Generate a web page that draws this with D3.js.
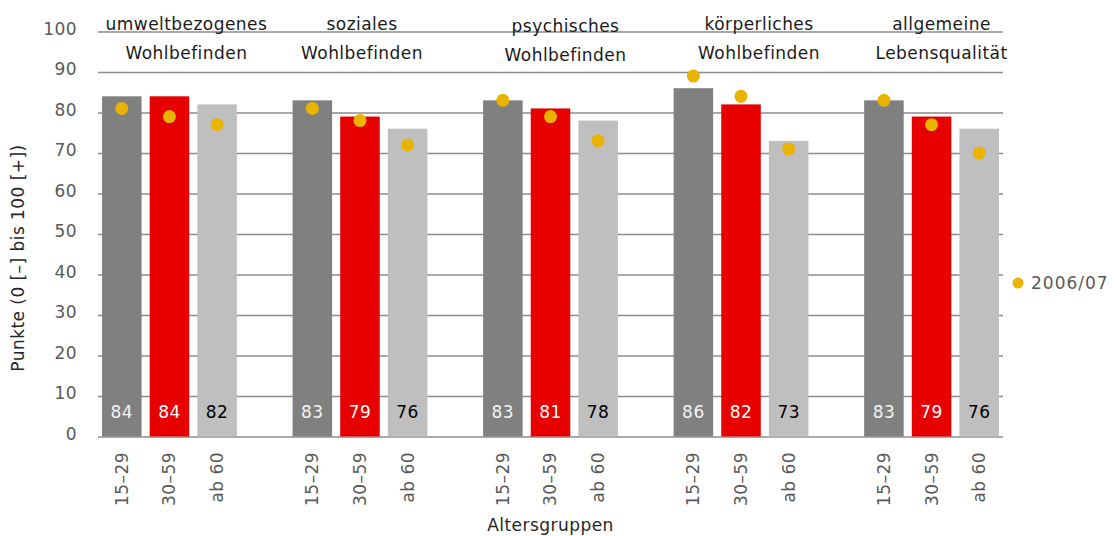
<!DOCTYPE html>
<html>
<head>
<meta charset="utf-8">
<script src="https://cdn.jsdelivr.net/npm/d3@7"></script>
<style>
  html, body { margin: 0; padding: 0; background: #fff; }
  text { font-family: "DejaVu Sans", sans-serif; letter-spacing: 0.45px; }
</style>
</head>
<body>
<script>
// ---- data ----
const categoriesLine1 = ["umweltbezogenes", "soziales", "psychisches", "körperliches", "allgemeine"];
const categoriesLine2 = ["Wohlbefinden", "Wohlbefinden", "Wohlbefinden", "Wohlbefinden", "Lebensqualität"];
const ageGroups = ["15–29", "30–59", "ab 60"];
const values1529 = [84, 83, 83, 86, 83];
const values3059 = [84, 79, 81, 82, 79];
const valuesAb60 = [82, 76, 78, 73, 76];
const prev1529 = [81, 81, 83, 89, 83];
const prev3059 = [79, 78, 79, 84, 77];
const prevAb60 = [77, 72, 73, 71, 70];
const yTicks = [0, 10, 20, 30, 40, 50, 60, 70, 80, 90, 100];
const legendLabel = "2006/07";
const yTitle = "Punkte (0 [–] bis 100 [+])";
const xTitle = "Altersgruppen";

// ---- layout / style ----
const W = 1115, H = 536;
const plotLeft = 98, plotRight = 1003, plotTop = 31.5, plotBottom = 436.5;
const barColors = ["#808080", "#e60000", "#bfbfbf"];
const labelColors = ["#f4f4f4", "#ffffff", "#000000"];
const dotColor = "#e9b300";
const gridColor = "#8c8c8c";
const axisTextColor = "#595959";
const titleDx = [17, 2, 15, 18, 10];
const titleDy = [0, 0, 2, 0, 0];

const current = [values1529, values3059, valuesAb60];
const previous = [prev1529, prev3059, prevAb60];

const rows = [];
const slots = [];
categoriesLine1.forEach((c, g) => {
  ageGroups.forEach((a, i) => {
    const key = g + "|" + i;
    slots.push(key);
    rows.push({ key, g, i, age: a, value: current[i][g], prev: previous[i][g] });
  });
  if (g < categoriesLine1.length - 1) slots.push("gap" + g);
});

const svg = d3.select("body").append("svg")
  .attr("width", W).attr("height", H)
  .style("display", "block");

const y = d3.scaleLinear().domain([0, 100]).range([plotBottom, plotTop]);
const x = d3.scaleBand().domain(slots).range([plotLeft, plotRight])
  .paddingInner(0.17).paddingOuter(0.085);
const bw = x.bandwidth();

// grid + y axis
const yAxis = svg.append("g")
  .attr("transform", `translate(${plotRight},0)`)
  .call(d3.axisLeft(y).tickValues(yTicks).tickSize(plotRight - plotLeft).tickPadding(21));
yAxis.select(".domain").remove();
yAxis.selectAll(".tick line").attr("stroke", gridColor).attr("stroke-width", 1.6);
yAxis.selectAll(".tick text")
  .attr("fill", axisTextColor)
  .attr("dy", "0.17em")
  .style("font-size", "17px")
  .style("font-family", "DejaVu Sans, sans-serif");

// bars
svg.append("g").selectAll("rect").data(rows).join("rect")
  .attr("x", d => x(d.key))
  .attr("width", bw)
  .attr("y", d => y(d.value))
  .attr("height", d => y(0) - y(d.value))
  .attr("fill", d => barColors[d.i]);

// value labels
svg.append("g").selectAll("text").data(rows).join("text")
  .attr("x", d => x(d.key) + bw / 2)
  .attr("y", y(0) - 18.5)
  .attr("text-anchor", "middle")
  .attr("fill", d => labelColors[d.i])
  .style("font-size", "17px")
  .text(d => d.value);

// previous-survey dots
svg.append("g").selectAll("circle").data(rows).join("circle")
  .attr("cx", d => x(d.key) + bw / 2)
  .attr("cy", d => y(d.prev))
  .attr("r", 6.5)
  .attr("fill", dotColor);

// x axis labels (rotated)
const xAxis = svg.append("g")
  .attr("transform", `translate(0,${plotBottom})`)
  .call(d3.axisBottom(x)
    .tickValues(rows.map(r => r.key))
    .tickSize(0)
    .tickFormat(k => ageGroups[+k.split("|")[1]]));
xAxis.select(".domain").remove();
xAxis.selectAll(".tick text")
  .attr("transform", "rotate(-90)")
  .attr("x", -15.5)
  .attr("y", 0)
  .attr("dy", "0.35em")
  .style("text-anchor", "end")
  .attr("fill", axisTextColor)
  .style("font-size", "17px")
  .style("font-family", "DejaVu Sans, sans-serif");

// category titles
const groupCenter = g => x(g + "|1") + bw / 2;
const titles = svg.append("g").attr("fill", "#1a1a1a").style("font-size", "17px");
titles.selectAll("text.l1").data(categoriesLine1).join("text")
  .attr("class", "l1")
  .attr("x", (d, g) => groupCenter(g) + titleDx[g])
  .attr("y", (d, g) => 30 + titleDy[g])
  .attr("text-anchor", "middle")
  .text(d => d);
titles.selectAll("text.l2").data(categoriesLine2).join("text")
  .attr("class", "l2")
  .attr("x", (d, g) => groupCenter(g) + titleDx[g])
  .attr("y", (d, g) => 59 + titleDy[g])
  .attr("text-anchor", "middle")
  .text(d => d);

// axis titles
svg.append("text")
  .attr("transform", `translate(24,${(plotTop + plotBottom) / 2 + 24}) rotate(-90)`)
  .attr("text-anchor", "middle")
  .attr("fill", "#262626")
  .style("font-size", "17px")
  .text(yTitle);

svg.append("text")
  .attr("x", (plotLeft + plotRight) / 2)
  .attr("y", 531)
  .attr("text-anchor", "middle")
  .attr("fill", "#262626")
  .style("font-size", "17px")
  .text(xTitle);

// legend
const legend = svg.append("g").attr("transform", `translate(1018,283)`);
legend.append("circle").attr("r", 5.5).attr("fill", dotColor);
legend.append("text")
  .attr("x", 13).attr("y", 6)
  .attr("fill", axisTextColor)
  .style("font-size", "17px")
  .style("letter-spacing", "1px")
  .text(legendLabel);
</script>
</body>
</html>
